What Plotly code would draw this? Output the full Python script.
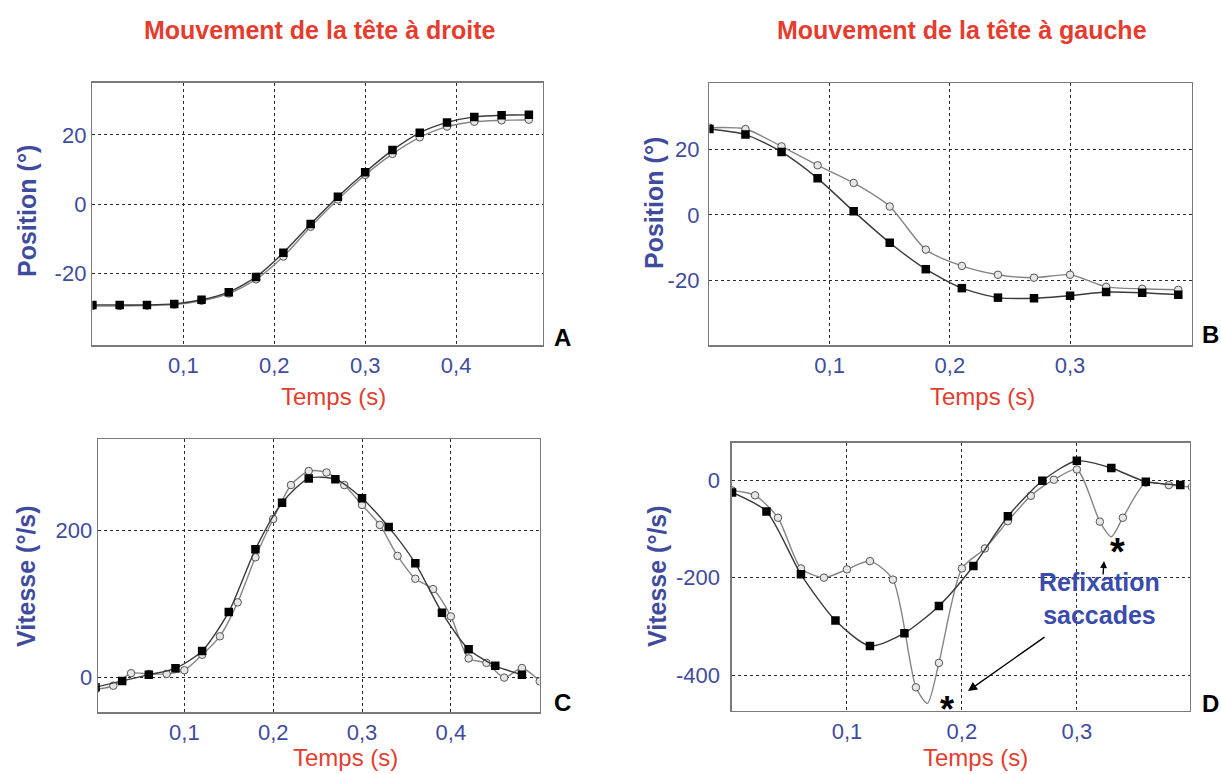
import plotly.graph_objects as go

W, H = 1221, 774

# ---------------- data ----------------
# Panel A : position, head moves right
a_t = [0.00, 0.03, 0.06, 0.09, 0.12, 0.15, 0.18, 0.21, 0.24, 0.27, 0.30, 0.33, 0.36, 0.39, 0.42, 0.45, 0.48]
a_sq_v = [-29.2, -29.2, -29.2, -28.9, -27.7, -25.5, -21.1, -14.1, -5.8, 2.1, 9.2, 15.6, 20.6, 23.6, 25.2, 25.7, 25.8]
a_ci_v = [-29.5, -29.5, -29.4, -29.1, -28.0, -25.9, -21.8, -15.2, -6.6, 1.3, 8.4, 14.5, 19.3, 22.4, 23.8, 24.2, 24.4]

# Panel B : position, head moves left
b_t = [0.00, 0.03, 0.06, 0.09, 0.12, 0.15, 0.18, 0.21, 0.24, 0.27, 0.30, 0.33, 0.36, 0.39]
b_sq_v = [26.3, 24.6, 19.3, 11.2, 1.1, -8.5, -16.6, -22.4, -25.3, -25.5, -24.7, -23.6, -23.8, -24.4]
b_ci_v = [26.7, 26.3, 21.0, 15.2, 9.8, 2.6, -10.6, -15.6, -18.3, -19.2, -18.3, -22.0, -22.6, -22.9]

# Panel C : velocity, head moves right
c_sq_t = [0.00, 0.03, 0.06, 0.09, 0.12, 0.15, 0.18, 0.21, 0.24, 0.27, 0.30, 0.33, 0.36, 0.39, 0.42, 0.45, 0.48]
c_sq_v = [-13, -4.5, 4, 12.6, 36, 89, 174, 237, 270, 269, 243, 204, 155, 88, 38.5, 16, 4]
c_ci_t = [0.00, 0.02, 0.04, 0.06, 0.08, 0.10, 0.12, 0.14, 0.16, 0.18, 0.20, 0.22, 0.24,
          0.26, 0.28, 0.30, 0.32, 0.34, 0.36, 0.38, 0.40, 0.42, 0.44, 0.46, 0.48, 0.50]
c_ci_v = [-16, -11, 6, 5, 5, 10, 31, 56, 102, 163, 215, 261, 280,
          278, 261, 234, 207, 165, 134, 120, 83, 26, 20, 0, 13, -5]

# Panel D : velocity, head moves left
d_sq_t = [0.00, 0.03, 0.06, 0.09, 0.12, 0.15, 0.18, 0.21, 0.24, 0.27, 0.30, 0.33, 0.36, 0.39]
d_sq_v = [-25, -64, -193, -288, -340, -314, -258, -176, -74, -1, 40, 25, -3, -10]
d_ci_t = [0.00, 0.02, 0.04, 0.06, 0.08, 0.10, 0.12, 0.14, 0.16, 0.17, 0.18, 0.20, 0.22,
          0.24, 0.26, 0.28, 0.30, 0.32, 0.33, 0.34, 0.36, 0.38, 0.40]
d_ci_v = [-21, -31, -77, -181, -200, -183, -166, -204, -425, -458, -375, -181, -140,
          -84, -32, 1, 22, -85, -116, -77, -5, -10, -14]
d_ci_marked = [True, True, True, True, True, True, True, True, True, False, True, True, True,
               True, True, True, True, True, False, True, True, True, True]

x_tickvals_4 = [0.1, 0.2, 0.3, 0.4]
x_ticktext_4 = ["0,1", "0,2", "0,3", "0,4"]
x_tickvals_3 = [0.1, 0.2, 0.3]
x_ticktext_3 = ["0,1", "0,2", "0,3"]
pos_tickvals = [-20, 0, 20]
pos_ticktext = ["-20", "0", "20"]
velC_tickvals = [0, 200]
velC_ticktext = ["0", "200"]
velD_tickvals = [-400, -200, 0]
velD_ticktext = ["-400", "-200", "0"]

titles = ["Mouvement de la tête à droite", "Mouvement de la tête à gauche"]
ytitles = ["Position (°)", "Position (°)", "Vitesse (°/s)", "Vitesse (°/s)"]
xtitle = "Temps (s)"
letters = ["A", "B", "C", "D"]
note = "Refixation<br>saccades"

# ---------------- style ----------------
BLUE = "#3f4c9e"
RED = "#e43d30"
FONT = "Liberation Sans"
SQ_LINE = "#3a3a3a"
CI_LINE = "#858585"

fig = go.Figure()


def px_x(p):
    return p / W


def px_y(p):
    return 1 - p / H


def add_series(t, v, xa, ya, kind, marked=None):
    if kind == "sq":
        line = dict(color=SQ_LINE, width=1.4, shape="spline", smoothing=0.7)
        marker = dict(symbol="square", size=8.5, color="black", line=dict(width=0))
    else:
        line = dict(color=CI_LINE, width=1.4, shape="spline", smoothing=0.7)
        marker = dict(symbol="circle", size=7.5, color="#e6e6e6", line=dict(color="#555", width=1))
    fig.add_trace(go.Scatter(x=t, y=v, mode="lines", line=line, xaxis=xa, yaxis=ya,
                             hoverinfo="skip", showlegend=False))
    if marked is None:
        mt, mv = t, v
    else:
        mt = [a for a, m in zip(t, marked) if m]
        mv = [b for b, m in zip(v, marked) if m]
    fig.add_trace(go.Scatter(x=mt, y=mv, mode="markers", marker=marker, xaxis=xa, yaxis=ya,
                             showlegend=False, cliponaxis=True))


# draw circles first, squares on top
add_series(a_t, a_ci_v, "x", "y", "ci")
add_series(a_t, a_sq_v, "x", "y", "sq")
add_series(b_t, b_ci_v, "x2", "y2", "ci")
add_series(b_t, b_sq_v, "x2", "y2", "sq")
add_series(c_ci_t, c_ci_v, "x3", "y3", "ci")
add_series(c_sq_t, c_sq_v, "x3", "y3", "sq")
add_series(d_ci_t, d_ci_v, "x4", "y4", "ci", d_ci_marked)
add_series(d_sq_t, d_sq_v, "x4", "y4", "sq")


def axis(domain, rng, tv, tt, standoff, anchor):
    return dict(domain=domain, range=rng, tickvals=tv, ticktext=tt, anchor=anchor,
                showgrid=True, gridcolor="#2a2a2a", gridwidth=1, griddash="3px,3px",
                showline=True, mirror=True, linecolor="#7a7a7a", linewidth=1.6,
                zeroline=False, ticks="", ticklabelstandoff=standoff,
                tickfont=dict(family=FONT, size=22, color=BLUE), fixedrange=True)


# plot boxes in pixels: left, right, top, bottom
boxA = (92.4, 542.5, 82.7, 345.0)
boxB = (709.4, 1191.5, 83.3, 345.0)
boxC = (98.2, 539.7, 439.3, 712.3)
boxD = (732.0, 1189.5, 442.7, 710.7)


def dom_x(b):
    return [b[0] / W, b[1] / W]


def dom_y(b):
    return [1 - b[3] / H, 1 - b[2] / H]


fig.update_layout(
    width=W, height=H,
    margin=dict(l=0, r=0, t=0, b=0),
    paper_bgcolor="white", plot_bgcolor="white",
    xaxis=axis(dom_x(boxA), [0, 0.495], x_tickvals_4, x_ticktext_4, 0, "y"),
    yaxis=axis(dom_y(boxA), [-40.8, 35.1], pos_tickvals, pos_ticktext, 0, "x"),
    xaxis2=axis(dom_x(boxB), [0, 0.401], x_tickvals_3, x_ticktext_3, 0, "y2"),
    yaxis2=axis(dom_y(boxB), [-39.8, 40.3], pos_tickvals, pos_ticktext, 4, "x2"),
    xaxis3=axis(dom_x(boxC), [0.003, 0.5], x_tickvals_4, x_ticktext_4, 0, "y3"),
    yaxis3=axis(dom_y(boxC), [-47, 323], velC_tickvals, velC_ticktext, 0, "x3"),
    xaxis4=axis(dom_x(boxD), [0, 0.398], x_tickvals_3, x_ticktext_3, 0, "y4"),
    yaxis4=axis(dom_y(boxD), [-473, 77], velD_tickvals, velD_ticktext, 6, "x4"),
)

ann = []


def text(s, x, y, size, color, bold=False, angle=0, xanchor="center"):
    ann.append(dict(text=("<b>%s</b>" % s) if bold else s, x=px_x(x), y=px_y(y),
                    xref="paper", yref="paper", showarrow=False, textangle=angle,
                    xanchor=xanchor, yanchor="middle",
                    font=dict(family=FONT, size=size, color=color)))


text(titles[0], 320, 30, 25, RED, bold=True)
text(titles[1], 962, 30, 25, RED, bold=True)
text(ytitles[0], 27, 211, 25, BLUE, bold=True, angle=-90)
text(ytitles[1], 654, 203, 25, BLUE, bold=True, angle=-90)
text(ytitles[2], 26, 576, 25, BLUE, bold=True, angle=-90)
text(ytitles[3], 657, 576, 25, BLUE, bold=True, angle=-90)
text(xtitle, 333, 397, 24, RED)
text(xtitle, 982, 397, 24, RED)
text(xtitle, 345, 757, 24, RED)
text(xtitle, 975, 757, 24, RED)
text(letters[0], 562, 337, 24, "black", bold=True)
text(letters[1], 1221, 335, 24, "black", bold=True, xanchor="right")
text(letters[2], 562, 702, 24, "black", bold=True)
text(letters[3], 1221, 703, 24, "black", bold=True, xanchor="right")
text(note, 1099, 598, 25, "#3a4cab", bold=True)
text("*", 1117, 552, 38, "black", bold=True)
text("*", 947, 709, 36, "black", bold=True)

# arrows
ann.append(dict(x=px_x(968), y=px_y(691), xref="paper", yref="paper", text="",
                showarrow=True, ax=78, ay=-55, axref="pixel", ayref="pixel",
                arrowhead=2, arrowsize=1.3, arrowwidth=1.4, arrowcolor="black"))
ann.append(dict(x=px_x(1104), y=px_y(561), xref="paper", yref="paper", text="",
                showarrow=True, ax=-1, ay=15, axref="pixel", ayref="pixel",
                arrowhead=2, arrowsize=1.0, arrowwidth=1.4, arrowcolor="black"))

fig.update_layout(annotations=ann)

fig.write_html("out.html", config={"displayModeBar": False, "staticPlot": True},
               post_script="document.body.style.margin='0px';")
